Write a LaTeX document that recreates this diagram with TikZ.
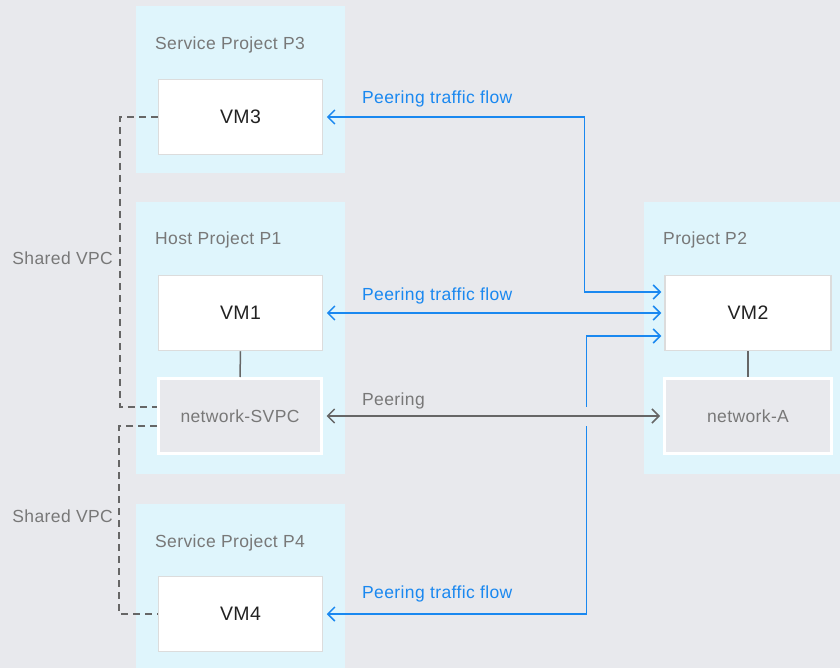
\documentclass[tikz,border=0pt]{standalone}
\usepackage{fontspec}
\setmainfont{Liberation Sans}[LetterSpace=2.2]
\usetikzlibrary{arrows.meta,calc}

\definecolor{canvas}{HTML}{E8E9ED}
\definecolor{panel}{HTML}{DFF5FC}
\definecolor{boxline}{HTML}{DCDCDC}
\definecolor{flowblue}{HTML}{1A88F0}
\definecolor{linkgray}{HTML}{666666}
\definecolor{labelgray}{HTML}{787878}
\definecolor{vmtext}{HTML}{222222}

\tikzset{
  panelbox/.style={fill=panel, draw=none},
  vmbox/.style={rectangle, fill=white, draw=boxline, line width=1.5pt,
    minimum width=164pt, minimum height=75pt, inner sep=0pt,
    text=vmtext, font=\fontsize{19.5}{22}\selectfont},
  netbox/.style={rectangle, fill=canvas, draw=white, line width=3pt,
    minimum width=163pt, minimum height=75pt, inner sep=0pt,
    text=labelgray, font=\fontsize{17.5}{20}\selectfont},
  title/.style={anchor=base west, inner sep=0pt, text=labelgray,
    font=\fontsize{17.5}{20}\selectfont},
  sidelabel/.style={anchor=base east, inner sep=0pt, text=labelgray,
    font=\fontsize{17.5}{20}\selectfont},
  flowlabel/.style={anchor=base west, inner sep=0pt, text=flowblue,
    font=\fontsize{17.5}{20}\selectfont},
  barb/.tip={Straight Barb[length=7pt, width=14pt, line width=1.5pt]},
  flow/.style={draw=flowblue, line width=1.5pt, barb-barb,
    shorten <=3.5pt, shorten >=3pt},
  peer/.style={draw=linkgray, line width=1.5pt, barb-barb,
    shorten <=3.5pt, shorten >=3pt},
  shared/.style={draw=linkgray, line width=1.5pt, dash pattern=on 7pt off 5pt},
  tie/.style={draw=linkgray, line width=1.5pt},
}

\begin{document}
\begin{tikzpicture}[x=1pt, y=-1pt]
  % canvas
  \fill[canvas] (0,0) rectangle (840,668);
  \useasboundingbox (0,0) rectangle (840,668);

  % project panels
  \fill[panelbox] (136,6) rectangle (345,173);
  \fill[panelbox] (136,202) rectangle (345,474);
  \fill[panelbox] (136,504) rectangle (345,668);
  \fill[panelbox] (644,202) rectangle (840,474);

  % panel titles
  \node[title] (t3) at (155,50) {Service Project P3};
  \node[title] (t1) at (155,245) {Host Project P1};
  \node[title] (t4) at (155,547) {Service Project P4};
  \node[title] (t2) at (663,245) {Project P2};

  % machines and networks
  \node[vmbox] (vm3) at (240.5,117) {VM3};
  \node[vmbox] (vm1) at (240.5,313) {VM1};
  \node[vmbox] (vm4) at (240.5,614) {VM4};
  \node[vmbox, minimum width=166pt] (vm2) at (748,313) {VM2};
  \node[netbox] (svpc) at (240,416) {network-SVPC};
  \node[netbox, minimum width=167pt] (neta) at (748,416) {network-A};

  % vm-to-network ties
  \draw[tie] (vm1.south) -- (svpc.north);
  \draw[tie] (vm2.south) -- (neta.north);

  % shared VPC attachments
  \draw[shared] (vm3.west) -- ++(-38,0) |- ([yshift=9pt]svpc.west);
  \draw[shared] ([yshift=-10pt]svpc.west) -- ++(-38,0) |- (vm4.west);
  \node[sidelabel] (sv1) at (113,265) {Shared VPC};
  \node[sidelabel] (sv2) at (113,522) {Shared VPC};

  % peering traffic flows
  \draw[flow] (vm3.east) -| ([xshift=-80pt,yshift=21pt]vm2.west)
    -- ([yshift=21pt]vm2.west);
  \draw[flow] (vm1.east) -- (vm2.west);
  \coordinate (bend4) at ([xshift=-78pt,yshift=-23pt]vm2.west);
  \draw[flow] (vm4.east) -| (bend4) -- ([yshift=-23pt]vm2.west);
  % gap in the blue riser where the peering line crosses
  \draw[canvas, line width=3pt] (bend4 |- svpc.east) ++(0,-9.5) -- ++(0,19);

  % network peering
  \draw[peer] (svpc.east) -- (neta.west);

  % flow labels
  \node[flowlabel] (f3) at (362,104) {Peering traffic flow};
  \node[flowlabel] (f1) at (362,300) {Peering traffic flow};
  \node[flowlabel] (f4) at (362,598) {Peering traffic flow};
  \node[title] (pl) at (362,405) {Peering};
\end{tikzpicture}
\end{document}
